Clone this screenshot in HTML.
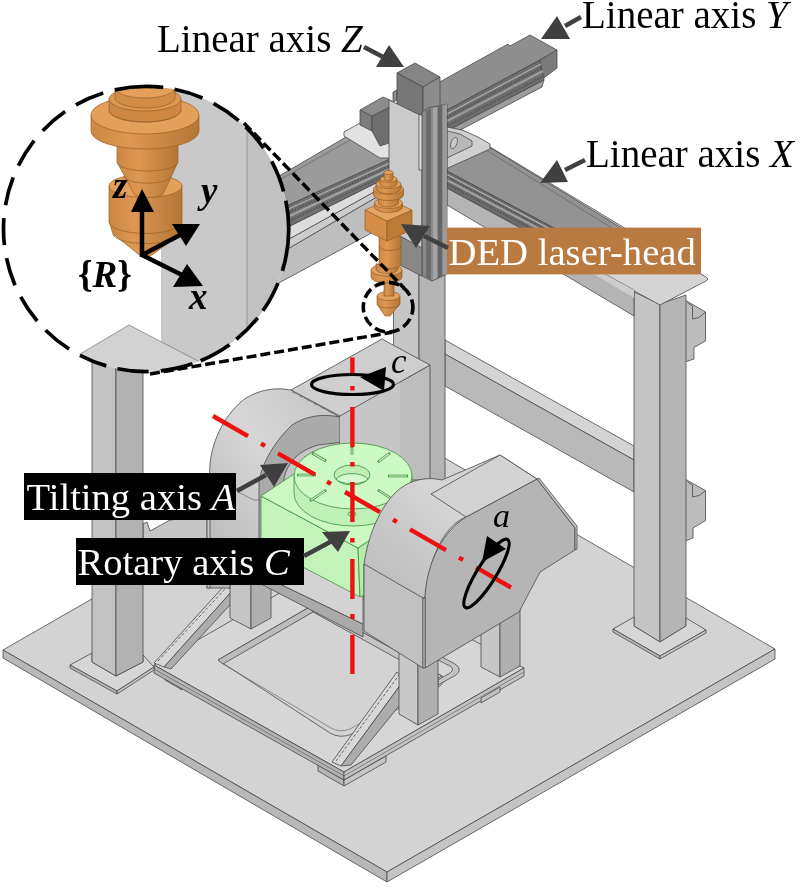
<!DOCTYPE html>
<html>
<head>
<meta charset="utf-8">
<title>5-axis DED machine</title>
<style>
html,body{margin:0;padding:0;background:#fff;}
body{width:800px;height:887px;overflow:hidden;font-family:"Liberation Serif",serif;}
svg{display:block;filter:blur(0.45px);}
text{font-family:"Liberation Serif",serif;}
.o{stroke:#4a4a4a;stroke-width:0.8;stroke-linejoin:round;}
.ol{stroke:#5a5a5a;stroke-width:0.6;fill:none;}
</style>
</head>
<body>
<svg width="800" height="887" viewBox="0 0 800 887">
<defs>
<linearGradient id="gCylL" x1="0" y1="1" x2="1" y2="0">
<stop offset="0" stop-color="#b4b4b4"/><stop offset="0.55" stop-color="#d6d6d6"/><stop offset="1" stop-color="#c4c4c4"/>
</linearGradient>
<linearGradient id="gCylR" x1="0" y1="1" x2="1" y2="0">
<stop offset="0" stop-color="#b8b8b8"/><stop offset="0.6" stop-color="#d6d6d6"/><stop offset="1" stop-color="#cecece"/>
</linearGradient>
<linearGradient id="gOr" x1="0" y1="0" x2="1" y2="0">
<stop offset="0" stop-color="#cc8743"/><stop offset="0.35" stop-color="#dd9752"/><stop offset="1" stop-color="#b47536"/>
</linearGradient>
<clipPath id="cpBig"><circle cx="146.100" cy="229" r="142.600"/></clipPath>
</defs>
<rect width="800" height="887" fill="#ffffff"/>

<!-- ================= BASE PLATE ================= -->
<g id="base">
<polygon class="o" points="3,650 391,427 775,649 387,872" fill="#d3d3d3"/>
<polygon class="o" points="3,650 387,872 387,882 3,658" fill="#b8b8b8"/>
<polygon class="o" points="387,872 775,649 775,659 387,882" fill="#c4c4c4"/>
</g>

<!-- ================= REAR FRAME ================= -->
<g id="rearframe">
<!-- right lower brace (rear post -> right post) -->
<polygon class="o" points="445,340 634,446 634,460 445,354" fill="#d4d4d4"/>
<polygon class="o" points="445,354 634,460 634,492 445,386" fill="#b9b9b9"/>
<!-- rear post (below Z column) -->
<polygon class="o" points="393.500,250 419,250 419,500 393.500,500" fill="#c6c6c6"/>
<polygon class="o" points="419,250 445,250 445,500 419,500" fill="#b4b4b4"/>
<!-- right post brackets -->
<g fill="#bcbcbc" class="o">
<path d="M685,300 L705.500,312 L705.500,341 L694,347.500 L694,359 L685,362 Z"/>
<path d="M687.500,303 L692.500,306 L692.500,319 L699,317.500 L705.500,312" fill="none"/>
<path d="M685,479 L705.500,490.600 L705.500,520.600 L693,528 L693,538 L685,541 Z"/>
<path d="M687.500,482 L692.500,485 L692.500,497 L699,495.500 L705.500,490.600" fill="none"/>
</g>
<!-- right post -->
<polygon class="o" points="634,292 660,304 660,642 634,626" fill="#c4c4c4"/>
<polygon class="o" points="660,304 686,295 686,626 660,642" fill="#b5b5b5"/>
<!-- right post flange -->
<polygon class="o" points="613,629 634,617 634,626 660,642 686,626 686,618 706,630 660,656" fill="#d6d6d6"/>
<polygon class="o" points="613,629 660,656 660,659 613,632" fill="#b8b8b8"/>
<polygon class="o" points="660,656 706,630 706,633 660,659" fill="#c4c4c4"/>
</g>

<!-- ================= SUB FRAME ================= -->
<g id="subframe">
<!-- feet -->
<polygon class="o" points="318,765 344,780 344,786 318,771" fill="#b4b4b4"/>
<polygon class="o" points="344,780 386,756 386,762 344,786" fill="#c6c6c6"/>
<polygon class="o" points="165,674 182,684 182,690 165,680" fill="#b4b4b4"/>
<polygon class="o" points="484,690 520,669 520,676 484,697" fill="#c6c6c6"/>
<!-- frame plate -->
<polygon class="o" points="154,665 332,563 524,668 344,772" fill="#d6d6d6"/>
<polygon class="o" points="154,665 344,772 344,780 154,673" fill="#b2b2b2"/>
<polygon class="o" points="344,772 524,668 524,676 344,780" fill="#c2c2c2"/>
<polyline class="ol" points="154,669 344,776 524,672"/>
<polygon class="o" points="481,698 500,687 500,692 481,703" fill="#c2c2c2"/>
<!-- pan (rounded cut-out) -->
<path class="o" d="M218,660 L313,605 L442,676 Q446,681 440,686 L352,734 Q340,739 330,733 Z" fill="#d3d3d3"/>
<polygon class="o" points="218,660 313,605 313,612 223,664" fill="#bcbcbc"/>
<polygon class="o" points="313,605 442,676 436,680 313,612" fill="#c4c4c4"/>
<path class="ol" d="M223,664 L331,728 Q340,733 350,729 L436,680"/>
<path class="o" d="M438,655 L455,664 Q463,669 456,675 L438,685 L438,680 L450,673 Q455,669 450,666 L438,660 Z" fill="#c4c4c4"/>
<!-- left diagonal strut -->
<polygon class="o" points="154,663 224,586 233,590 164,667" fill="#d8d8d8"/>
<polygon class="o" points="164,667 233,590 240,594 171,669" fill="#adadad"/>
<polyline points="158,661 226,588" stroke="#444" stroke-width="0.8" stroke-dasharray="3 2" fill="none"/>
<!-- bottom diagonal strut -->
<polygon class="o" points="332,762 397,672 404,680 341,766" fill="#d8d8d8"/>
<polygon class="o" points="341,766 404,680 412,690 351,765" fill="#adadad"/>
<polyline points="336,761 399,675" stroke="#444" stroke-width="0.8" stroke-dasharray="3 2" fill="none"/>
</g>

<!-- ================= LEFT (REAR) HOUSING ================= -->
<g id="lefthousing">
<polygon class="o" points="143,524 147,522 150,531 170,520 210,516 210,540 143,540" fill="#c6c6c6"/>
<!-- leg -->
<polygon class="o" points="230,540 251,540 251,629 230,618" fill="#c6c6c6"/>
<polygon class="o" points="251,540 271,540 271,618 251,629" fill="#b0b0b0"/>
<!-- cradle bridge bar -->
<polygon class="o" points="259,574 363,624 363,637 259,583" fill="#a9a9a9"/>
<polygon class="o" points="259,540 363,594 363,624 259,574" fill="#d3d3d3"/>
<!-- body silhouette: cylinder surface -->
<path class="o" d="M207,588 L207,520 L210,464 C212,440 226,412 246,398 C258,391 270,388 284,389 L291,390 L340,417 L340,520 L259,560 L259,582 L230,582 L230,588 L207,588 Z" fill="url(#gCylL)"/>
<polygon class="o" points="207,520 210,518 210,588 207,588" fill="#c8c8c8"/>
<!-- flat face (facing lower-right) -->
<path class="o" d="M259,560 L259,482 C262,462 276,440 292,425 C304,417 320,413 340,417 L350,440 L330,520 Z" fill="#aaaaaa"/>
<!-- bore -->
<path class="o" d="M284,520 L284,478 C288,462 298,451 318,445 L360,440 L360,520 Z" fill="#c4c4c4"/>
<polyline class="ol" points="238,492 254,500 259,500"/>
<!-- top box -->
<polygon class="o" points="340,416 430,365 430,480 340,480" fill="#bdbdbd"/>
<polygon points="340,416 400,382 400,480 340,480" fill="#c6c6c6"/>
<polygon class="o" points="291,390 382,339 430,365 340,416" fill="#cecece"/>
<polyline points="292,392 340,417" stroke="#666" stroke-width="0.7" stroke-dasharray="4 1.5 1 1.5" fill="none"/>
</g>

<!-- ================= GREEN TABLE ================= -->
<g id="table" stroke="#3f8f3f" stroke-width="0.8" stroke-linejoin="round">
<!-- cube -->
<polygon points="261,496 358,548 360,597 261,545" fill="#c3f3b8"/>
<polygon points="358,548 400,520 400,580 360,597" fill="#b8ecae"/>
<polygon points="261,496 300,470 400,520 358,548" fill="#ccf8c2"/>
<!-- disc side -->
<path d="M294,476 L294,493 A59,33 0 0 0 412,493 L412,476 Z" fill="#bff0b5"/>
<!-- disc top -->
<ellipse cx="353" cy="476" rx="59" ry="33" fill="#cdf9c4"/>
<!-- centre hole -->
<ellipse cx="352" cy="475" rx="18" ry="10" fill="#c0efb6"/>
<path d="M336,479 A18,10 0 0 1 368,479 A17,7 0 0 1 336,479 Z" fill="#d6fbcf"/>
<!-- slots -->
<g stroke="#3f8f3f" stroke-width="2.6" stroke-linecap="butt" fill="none">
<line x1="352" y1="447" x2="352" y2="455"/>
<line x1="312" y1="453" x2="326" y2="461"/>
<line x1="378" y1="462" x2="390" y2="453"/>
<line x1="297" y1="475" x2="316" y2="475"/>
<line x1="388" y1="476" x2="408" y2="476"/>
<line x1="310" y1="501" x2="326" y2="490"/>
<line x1="378" y1="490" x2="392" y2="499"/>
</g>
<g stroke="#cdf9c4" stroke-width="1.1" fill="none">
<line x1="352" y1="448" x2="352" y2="455"/>
<line x1="313" y1="453.600" x2="325" y2="460.400"/>
<line x1="379" y1="461.300" x2="389" y2="453.700"/>
<line x1="298" y1="475" x2="315" y2="475"/>
<line x1="389" y1="476" x2="407" y2="476"/>
<line x1="311" y1="500.300" x2="325" y2="490.700"/>
<line x1="379" y1="490.600" x2="391" y2="498.400"/>
</g>
<ellipse cx="352" cy="514" rx="4" ry="2.2" fill="#bff0b5"/>
</g>

<!-- ================= RIGHT (FRONT) HOUSING ================= -->
<g id="righthousing">
<!-- far leg -->
<polygon class="o" points="481,600 500,610 500,677 481,667" fill="#c6c6c6"/>
<polygon class="o" points="500,610 520,598 520,666 500,677" fill="#b0b0b0"/>
<!-- near leg -->
<polygon class="o" points="399,650 418,660 418,725 399,714" fill="#c8c8c8"/>
<polygon class="o" points="418,660 438,650 438,714 418,725" fill="#b0b0b0"/>
<!-- curved cylinder surface -->
<path class="o" d="M364,600 L364,564 C368,535 380,508 396,492 C408,481 424,476 442,480 L500,455 L537,479 L466,517 C448,524 430,550 425,598 L423,598 Z" fill="url(#gCylR)"/>
<!-- flat wall left-bottom -->
<polygon class="o" points="364,564 423,598 423,668 364,631" fill="#c1c1c1"/>
<!-- front face -->
<path class="o" d="M425,668 L425,598 C426,570 438,535 466,517 L537,479 L575,528 L575,550 L540,572 L519,612 Z" fill="#b5b5b5"/>
<polygon class="o" points="423,598 425,598 425,668 423,668" fill="#d0d0d0"/>
<!-- right sliver faces -->
<polygon class="o" points="537,479 539,478 577,526 577,549 575,550 575,528" fill="#c0c0c0"/>
<!-- top box top -->
<polygon class="o" points="431,494 500,455 537,479 466,517" fill="#d3d3d3"/>
</g>

<!-- ================= LEFT POST ================= -->
<g id="leftpost">
<polygon class="o" points="70,665 92,653 92,662 116,676 143,662 143,655 154,667 117,691" fill="#d6d6d6"/>
<polygon class="o" points="70,665 117,691 117,694 70,668" fill="#b8b8b8"/>
<polygon class="o" points="117,691 154,667 154,670 117,694" fill="#c4c4c4"/>
<polygon class="o" points="92,340 116,340 116,676 92,662" fill="#c2c2c2"/>
<polygon class="o" points="116,340 143,340 143,662 116,676" fill="#b2b2b2"/>
</g>

<!-- ================= BEAMS ================= -->
<g id="beams">
<!-- ===== X beam (right part, rear post -> right post) ===== -->
<!-- cap plate / top flange (light) -->
<polygon class="o" points="447,121 706,277 708,279 706,281 660,305 447,189" fill="#d4d4d4"/>
<!-- front face -->
<polygon class="o" points="447,188 634,290 634,316 447,205" fill="#b4b4b4"/>
<polygon points="540,239 634,290 634,298 540,242" fill="#cdcdcd"/>
<!-- dark top of linear axis X -->
<polygon class="o" points="447,122 485,144.500 628,232 600,252 552,227 447,171" fill="#939393"/>
<polyline class="ol" points="470,140 620,233" stroke="#6a6a6a"/>
<!-- rail band -->
<polygon class="o" points="447,171 552,227 600,252 600,270 447,188" fill="#6c6c6c"/>
<polyline points="447,174.5 600,255.5" stroke="#b5b5b5" stroke-width="1.2" fill="none"/>
<polyline points="447,180 600,261" stroke="#a0a0a0" stroke-width="2.2" fill="none"/>
<polyline points="447,177 600,258" stroke="#555" stroke-width="2" stroke-dasharray="1.5 1.5" fill="none"/>
<polyline points="447,184 600,265" stroke="#555" stroke-width="2" stroke-dasharray="1.5 1.5" fill="none"/>

<!-- ===== left beam (left post -> rear post) ===== -->
<polygon class="o" points="262,292 392,222 392,188 262,264" fill="#bebebe"/>
<polygon class="o" points="262,264 392,188 392,182 262,254" fill="#cccccc"/>
<polygon class="o" points="262,254 392,182 392,175 262,240" fill="#dcdcdc"/>
<polygon class="o" points="262,240 392,175 392,158 262,217" fill="#707070"/>
<polyline points="262,221 392,162" stroke="#b0b0b0" stroke-width="1.2" fill="none"/>
<polyline points="262,229 392,168" stroke="#a2a2a2" stroke-width="2.4" fill="none"/>
<polyline points="262,225 392,165" stroke="#555" stroke-width="2" stroke-dasharray="1.5 1.5" fill="none"/>
<polyline points="262,234 392,172" stroke="#555" stroke-width="2" stroke-dasharray="1.5 1.5" fill="none"/>
<polygon class="o" points="262,186 346,137 360,128 392,142 392,158 262,217" fill="#9b9b9b"/>
<polyline class="ol" points="262,190 350,140" stroke="#6a6a6a"/>
<!-- left bracket plate + motor block -->
<polygon class="o" points="344,132 360,123 392,140 392,158 380,158 344,136" fill="#e2e2e2"/>
<polygon class="o" points="360,110 383,97 392,101 392,112 372,124" fill="#8c8c8c"/>
<polygon class="o" points="360,110 372,116 372,131 360,125" fill="#7c7c7c"/>
<polygon class="o" points="372,116 392,106 392,142 380,146 372,131" fill="#6e6e6e"/>

<!-- ===== Y beam (right part going up-right) ===== -->
<polygon class="o" points="436,84 508,44 510,46 530,35 557,50 540,60 436,116" fill="#8e8e8e"/>
<polygon class="o" points="540,60 557,50 557,68 544,78 540,78" fill="#7b7b7b"/>
<polygon class="o" points="447,110 540,60 544,80 447,131" fill="#6e6e6e"/>
<polyline points="447,114 541,64" stroke="#b0b0b0" stroke-width="1.2" fill="none"/>
<polyline points="447,121 543,71" stroke="#9c9c9c" stroke-width="2.2" fill="none"/>
<polyline points="447,117.5 542,67.5" stroke="#555" stroke-width="2" stroke-dasharray="1.5 1.5" fill="none"/>
<polyline points="447,126 544,76" stroke="#555" stroke-width="2" stroke-dasharray="1.5 1.5" fill="none"/>
<polygon class="o" points="447,131 544,80 542,87 464,128 447,137" fill="#9c9c9c"/>
<!-- gusset right of Z column -->
<polygon class="o" points="447,127 462,130 478,137 490,144 490,149 448,168 447,168" fill="#d0d0d0"/>
<polygon class="o" points="447,131 460,134 472,141 472,146 447,158" fill="#b8b8b8"/>
<ellipse cx="454" cy="143" rx="3" ry="6" fill="#c8c8c8" stroke="#555" stroke-width="0.7" transform="rotate(20 454 143)"/>
</g>

<!-- ================= Z COLUMN ================= -->
<g id="zcol">
<!-- top block -->
<polygon class="o" points="393,92 397,90 397,100 393,102" fill="#8a8a8a"/>
<polygon class="o" points="397,73 415,63 440,77 423,87" fill="#858585"/>
<polygon class="o" points="397,73 423,87 423,120 397,108" fill="#777777"/>
<polygon class="o" points="423,87 440,77 440,108 423,116" fill="#8c8c8c"/>
<!-- carriage plate -->
<polygon class="o" points="389,100 422,116 422,250 389,236" fill="#cbcbcb"/>
<polygon class="o" points="419,114 423,116 423,170 419,170" fill="#e0e0e0"/>
<!-- Z rail -->
<polygon class="o" points="422,112 428,108 447,104 447,274 432,281 422,276" fill="#8a8a8a"/>
<polygon points="426,110 431,109 431,280 426,277" fill="#6c6c6c"/>
<polygon points="433,108 437,107 437,278 433,280" fill="#a4a4a4"/>
<polygon points="438,106 442,105 442,276 438,278" fill="#666666"/>
<polygon points="443,105 447,104 447,274 443,275" fill="#9a9a9a"/>
<!-- small bracket -->
<polygon class="o" points="400,236 422,248 422,276 400,265" fill="#888888"/>
</g>

<!-- ================= DED HEAD (small) ================= -->
<g id="head" stroke="#8a5520" stroke-width="0.6" stroke-linejoin="round">
<!-- lower nozzle -->
<path d="M377,296 L377,304 L385,316 L390,316 L400,304 L400,296 Z" fill="url(#gOr)"/>
<path d="M377,304 A11.500,4 0 0 0 400,304" fill="none"/>
<ellipse cx="388.500" cy="296" rx="11.500" ry="4.500" fill="#e0a060"/>
<rect x="384" y="282" width="10" height="14" fill="url(#gOr)"/>
<!-- flange rings -->
<path d="M371,270 L371,277 A15.500,6 0 0 0 402,277 L402,270 Z" fill="url(#gOr)"/>
<ellipse cx="386.500" cy="270" rx="15.500" ry="6" fill="#e0a060"/>
<path d="M376,264 L376,269 A11,4.500 0 0 0 398,269 L398,264 Z" fill="url(#gOr)"/>
<!-- lower cylinder -->
<path d="M379,236 L379,264 A11,4.500 0 0 0 401,264 L401,236 Z" fill="url(#gOr)"/>
<path d="M379,246 A11,4.500 0 0 0 401,246" fill="none"/>
<!-- cube -->
<polygon points="365,210 387,221 387,241 365,230" fill="#d58d48"/>
<polygon points="387,221 412,210 412,230 387,241" fill="#bd7b38"/>
<polygon points="365,210 389,199 412,210 387,221" fill="#e5a562"/>
<!-- ring stack -->
<path d="M374.5,203 L374.5,207 A14,5.5 0 0 0 402.5,207 L402.5,203 Z" fill="url(#gOr)"/>
<ellipse cx="388.5" cy="203" rx="14" ry="5.5" fill="#e3a35e"/>
<path d="M378.5,196 L378.5,203 A10,4 0 0 0 398.5,203 L398.5,196 Z" fill="url(#gOr)"/>
<ellipse cx="388.5" cy="196" rx="10" ry="4" fill="#e3a35e"/>
<path d="M373.5,189 L373.5,195 A15,5.5 0 0 0 403.5,195 L403.5,189 Z" fill="url(#gOr)"/>
<ellipse cx="388.5" cy="189" rx="15" ry="5.5" fill="#e3a35e"/>
<path d="M376,184 L376,189 A12.5,4.5 0 0 0 401,189 L401,184 Z" fill="url(#gOr)"/>
<ellipse cx="388.5" cy="184" rx="12.5" ry="4.5" fill="#e3a35e"/>
<path d="M380,179 L380,184 A8.5,3.2 0 0 0 397,184 L397,179 Z" fill="url(#gOr)"/>
<ellipse cx="388.5" cy="179" rx="8.5" ry="3.2" fill="#e3a35e"/>
<path d="M384,172.5 L384,179 A4.5,2 0 0 0 393,179 L393,172.5 Z" fill="url(#gOr)"/>
<ellipse cx="388.5" cy="172.5" rx="4.5" ry="2" fill="#e3a35e"/>
</g>

<!-- ================= BIG DETAIL CIRCLE ================= -->
<g id="bigcircle">
<circle cx="146.100" cy="229" r="142.600" fill="#ffffff"/>
<g clip-path="url(#cpBig)">
<!-- gray column -->
<polygon points="161,60 247,60 247,400 161,400" fill="#c9c9c9"/>
<polygon points="247,60 300,60 300,400 247,400" fill="#c1c1c1"/>
<line x1="247" y1="60" x2="247" y2="400" stroke="#8a8a8a" stroke-width="0.8"/>
<!-- post cap plate -->
<polygon points="80,354 129,325 200,362 200,400 80,400" fill="#d2d2d2" stroke="#777" stroke-width="0.7"/>
<!-- magnified nozzle -->
<g stroke="#9a6228" stroke-width="0.7" stroke-linejoin="round">
<!-- lower cylinder + tip -->
<path d="M109,186 L109,221 L113,234 L142,257 L152,255 L178,236 L182,222 L182,186 Z" fill="url(#gOr)"/>
<path d="M109,221 A36.500,12 0 0 0 182,222" fill="none"/>
<path d="M113,234 A33,10 0 0 0 178,236" fill="none"/>
<ellipse cx="145.500" cy="186" rx="36.500" ry="11.500" fill="#e3a05a"/>
<!-- cone -->
<path d="M117,140 L117,162 L133,192 A15.500,5.500 0 0 0 164,192 L178,162 L178,140 Z" fill="url(#gOr)"/>
<path d="M117,162 A30.500,9 0 0 0 178,162" fill="none"/>
<path d="M124,176 A23,7 0 0 0 171,176" fill="none"/>
<!-- top flange -->
<path d="M91,115 L91,131 A54,18 0 0 0 199,131 L199,115 Z" fill="url(#gOr)"/>
<ellipse cx="145" cy="115" rx="54" ry="19" fill="#e3a05a"/>
<path d="M109,99 L109,110 A36,12 0 0 0 181,110 L181,99 Z" fill="#cf8843"/>
<path d="M109,110 A36,12 0 0 0 181,110" fill="none"/>
<ellipse cx="145" cy="99" rx="36" ry="12" fill="#dc9852"/>
<path d="M115,90 L115,98 A30,10 0 0 0 175,98 L175,90 Z" fill="#d38c46"/>
<ellipse cx="145" cy="88" rx="30" ry="10" fill="#e3a05a"/>
</g>
</g>
<path d="M114.7,89.9 A142.6,142.6 0 0 1 163.2,87.4 M174.5,89.3 A142.6,142.6 0 0 1 202.5,98.0 M213.5,103.3 A142.6,142.6 0 0 1 238.7,120.6 M245.7,126.9 A142.6,142.6 0 0 1 263.6,148.2 M271.7,161.4 A142.6,142.6 0 0 1 283.6,191.4 M285.8,200.6 A142.6,142.6 0 0 1 282.4,270.9 M278.0,283.1 A142.6,142.6 0 0 1 262.9,310.8 M257.7,317.8 A142.6,142.6 0 0 1 236.4,339.3 M229.5,344.7 A142.6,142.6 0 0 1 200.7,360.7 M192.5,363.8 A142.6,142.6 0 0 1 160.8,370.8 M148.6,371.6 A142.6,142.6 0 0 1 117.4,368.7 M106.3,365.9 A142.6,142.6 0 0 1 80.0,355.4 M69.1,349.0 A142.6,142.6 0 0 1 45.6,330.2 M37.2,321.0 A142.6,142.6 0 0 1 20.7,296.8 M15.0,285.2 A142.6,142.6 0 0 1 6.5,258.2 M4.4,245.1 A142.6,142.6 0 0 1 3.9,218.1 M5.5,205.2 A142.6,142.6 0 0 1 13.2,177.4 M18.4,165.6 A142.6,142.6 0 0 1 34.2,140.6 M42.7,130.8 A142.6,142.6 0 0 1 65.1,111.6 M75.9,104.9 A142.6,142.6 0 0 1 103.2,93.0" fill="none" stroke="#000" stroke-width="3.700"/>
<!-- small circle + connecting lines -->
<circle cx="388.100" cy="307.200" r="24.800" fill="none" stroke="#000" stroke-width="3.600" stroke-dasharray="10.500 4.500" stroke-dashoffset="3"/>
<line x1="244" y1="123" x2="404" y2="288" stroke="#000" stroke-width="3.500" stroke-dasharray="10 4"/>
<line x1="150" y1="374" x2="392" y2="332.300" stroke="#000" stroke-width="3.500" stroke-dasharray="10 4"/>
</g>

<!-- ================= AXES / ARROWS ================= -->
<g id="axes">
<!-- R frame -->
<g stroke="#000" stroke-width="4.500" fill="#000" stroke-linecap="butt">
<line x1="142" y1="257" x2="142" y2="208"/>
<line x1="142" y1="255" x2="180" y2="235"/>
<line x1="142" y1="255" x2="182" y2="275"/>
</g>
<polygon points="142,189 131,212 154,212" fill="#000"/>
<polygon points="200,224 172,224 186,246" fill="#000"/>
<polygon points="203,286 187,264 173,287" fill="#000"/>
<!-- red C axis (vertical) -->
<g stroke="#ee1111" stroke-width="4.400" fill="none">
<path d="M352.400,357.500 V374 M352.400,386 V390.500 M352.400,407 V447 M352.400,462 V466.500 M352.400,482 V522 M352.400,538 V542.500 M352.400,559 V599 M352.400,614 V619 M352.400,635 V674"/>
</g>
<!-- red A axis -->
<path d="M213.0,416.0 L248.0,436.1 M261.0,443.6 L265.0,445.9 M278.0,453.4 L315.0,474.7 M327.0,481.6 L331.0,483.9 M345.0,492.0 L380.0,512.1 M393.0,519.6 L397.0,521.9 M410.0,529.4 L446.0,550.1 M459.0,557.6 L463.0,559.9 M476.0,567.4 L511.0,587.5" stroke="#ee1111" stroke-width="4.400" fill="none"/>
<!-- c rotation -->
<ellipse cx="352.500" cy="384.500" rx="41" ry="10" fill="none" stroke="#000" stroke-width="3.200"/>
<polygon points="360,377 386,367 384,391" fill="#000"/>
<!-- a rotation -->
<ellipse cx="486.500" cy="573.500" rx="40" ry="9.500" fill="none" stroke="#000" stroke-width="3.200" transform="rotate(-58 486.500 573.500)"/>
<polygon points="487,536 482,562 506,549" fill="#000"/>
</g>

<!-- ================= LABELS ================= -->
<g id="labels" font-size="39">
<text x="157" y="52">Linear axis <tspan font-style="italic">Z</tspan></text>
<text x="582" y="28">Linear axis <tspan font-style="italic">Y</tspan></text>
<text x="586" y="167">Linear axis <tspan font-style="italic">X</tspan></text>
<rect x="447" y="227.600" width="254" height="46.800" fill="#b87a40"/>
<text x="448.500" y="264.500" fill="#fff" font-size="38.700">DED laser-head</text>
<rect x="24" y="473" width="212" height="47" fill="#000"/>
<text x="26.500" y="510" fill="#fff" font-size="38.600">Tilting axis <tspan font-style="italic">A</tspan></text>
<rect x="76" y="538" width="228" height="47" fill="#000"/>
<text x="77.500" y="575" fill="#fff" font-size="38.600">Rotary axis <tspan font-style="italic">C</tspan></text>
<text x="391" y="372.500" font-style="italic" font-size="35">c</text>
<text x="493" y="527" font-style="italic" font-size="34">a</text>
<g font-weight="bold" font-style="italic" font-size="37">
<text x="113" y="198">z</text>
<text x="201" y="203">y</text>
<text x="189" y="309">x</text>
<text x="78" y="287"><tspan font-style="normal">{</tspan>R<tspan font-style="normal">}</tspan></text>
</g>
<!-- label arrows -->
<g stroke="#404040" stroke-width="4.500" fill="#404040">
<line x1="364" y1="47" x2="385" y2="58"/>
<line x1="581" y1="17" x2="565" y2="26"/>
<line x1="585" y1="160" x2="565" y2="170"/>
<line x1="448" y1="248" x2="424" y2="236"/>
<line x1="237" y1="491" x2="266" y2="475"/>
<line x1="304" y1="556" x2="332" y2="541"/>
</g>
<g fill="#404040">
<polygon points="404,67 376,67 389,45"/>
<polygon points="541,39 557,16 570,39"/>
<polygon points="540,183 557,160 568,182"/>
<polygon points="401,224 430,226 416,248"/>
<polygon points="288,463 260,465 274,487"/>
<polygon points="350,531 322,532 338,552"/>
</g>
</g>

</svg>
</body>
</html>
